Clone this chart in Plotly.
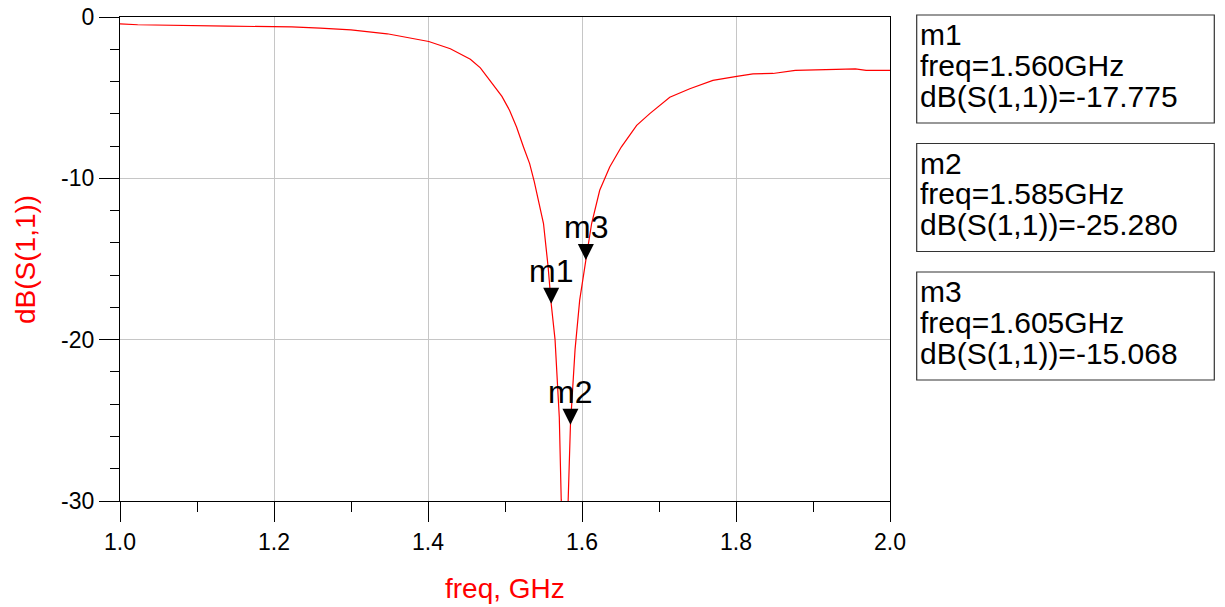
import plotly.graph_objects as go

# ---- data ----
freq_ghz = [1.000, 1.023, 1.140, 1.200, 1.223, 1.260, 1.300, 1.347, 1.390, 1.401,
            1.429, 1.455, 1.468, 1.481, 1.496, 1.506, 1.515, 1.524, 1.532, 1.538,
            1.550, 1.556, 1.560, 1.565, 1.5705, 1.573, 1.5775, 1.582, 1.585, 1.591,
            1.597, 1.605, 1.6125, 1.623, 1.636, 1.651, 1.671, 1.688, 1.714, 1.740,
            1.770, 1.801, 1.822, 1.848, 1.861, 1.877, 1.930, 1.955, 1.969, 2.000]
s11_db = [-0.42, -0.48, -0.57, -0.58, -0.61, -0.69, -0.80, -1.04, -1.39, -1.52,
          -1.97, -2.62, -3.15, -3.98, -4.92, -5.79, -6.82, -8.06, -9.09, -10.2,
          -12.8, -15.49, -17.775, -20.0, -24.8, -29.9, -34.0, -30.0, -25.28, -20.6,
          -17.55, -15.068, -12.8, -10.74, -9.3, -8.06, -6.72, -5.99, -4.97, -4.45,
          -3.93, -3.68, -3.52, -3.50, -3.42, -3.31, -3.25, -3.21, -3.31, -3.31]

marker_names = ["m1", "m2", "m3"]
marker_freq = [1.560, 1.585, 1.605]
marker_db = [-17.775, -25.280, -15.068]

x_tickvals = [1.0, 1.2, 1.4, 1.6, 1.8, 2.0]
x_ticktext = ["1.0", "1.2", "1.4", "1.6", "1.8", "2.0"]
y_tickvals = [0, -10, -20, -30]
y_ticktext = ["0", "-10", "-20", "-30"]

x_title = "freq, GHz"
y_title = "dB(S(1,1))"

# ---- layout geometry (pixels); body margin removed via post_script ----
W, H = 1225, 607
PW, PH = 770, 484
ML, MT = 120, 17
MR = W - ML - PW
MB = H - MT - PH
FONT = "Liberation Sans, Arial, sans-serif"


def px_x(px):
    """screen x pixel -> paper coordinate"""
    return (px - ML) / PW


def px_y(py):
    """screen y pixel -> paper coordinate"""
    return (H - MB - py) / PH


fig = go.Figure()
fig.add_trace(go.Scatter(x=freq_ghz, y=s11_db, mode="lines",
                         line=dict(color="#ff0000", width=1.2),
                         hoverinfo="skip", showlegend=False))

shapes = []
annotations = []

# marker triangles + labels
for name, f, d in zip(marker_names, marker_freq, marker_db):
    shapes.append(dict(type="path", xref="x", yref="y",
                       xsizemode="pixel", ysizemode="pixel",
                       xanchor=f, yanchor=d,
                       path="M-8,16 L8,16 L0,0 Z",
                       fillcolor="black", line=dict(width=0)))
    annotations.append(dict(x=f, y=d, xref="x", yref="y", text=name,
                            showarrow=False, yanchor="middle", xanchor="center",
                            yshift=33, font=dict(family=FONT, size=32, color="black")))

# readout boxes
box_left, box_right = 916.7, 1214.3
box_tops = [15, 143.5, 272]
box_h = 108
for (name, f, d), top in zip(zip(marker_names, marker_freq, marker_db), box_tops):
    shapes.append(dict(type="rect", xref="paper", yref="paper",
                       x0=px_x(box_left), x1=px_x(box_right),
                       y0=px_y(top), y1=px_y(top + box_h),
                       line=dict(color="#333333", width=1.2), fillcolor="rgba(0,0,0,0)"))
    lines = [name, "freq=%.3fGHz" % f, "dB(S(1,1))=%.3f" % d]
    for i, txt in enumerate(lines):
        annotations.append(dict(x=px_x(box_left + 1.5), y=px_y(top + 19.5 + 30.8 * i),
                                xref="paper", yref="paper", text=txt, showarrow=False,
                                xanchor="left", yanchor="middle",
                                font=dict(family=FONT, size=30, color="black")))

# axis titles
annotations.append(dict(x=0.5, y=px_y(588), xref="paper", yref="paper", text=x_title,
                        showarrow=False, xanchor="center", yanchor="middle",
                        font=dict(family=FONT, size=28, color="#ff0000")))
annotations.append(dict(x=px_x(25), y=px_y(260), xref="paper", yref="paper", text=y_title,
                        showarrow=False, xanchor="center", yanchor="middle", textangle=-90,
                        font=dict(family=FONT, size=28, color="#ff0000")))

axis_common = dict(showline=True, linecolor="black", linewidth=1.2, mirror=True,
                   showgrid=True, gridcolor="#c6c6c6", gridwidth=1,
                   ticks="outside", ticklen=20, tickcolor="black", tickwidth=1,
                   tickfont=dict(family=FONT, size=23, color="black"),
                   ticklabeloverflow="allow",
                   zeroline=False, fixedrange=True, automargin=False)

fig.update_layout(
    width=W, height=H,
    margin=dict(l=ML, r=MR, t=MT, b=MB, pad=0, autoexpand=False),
    paper_bgcolor="white", plot_bgcolor="white",
    showlegend=False,
    xaxis=dict(range=[1.0, 2.0], tickmode="array", tickvals=x_tickvals, ticktext=x_ticktext,
               minor=dict(ticks="outside", ticklen=10, dtick=0.1, tick0=1.0,
                          tickcolor="black", showgrid=False),
               **axis_common),
    yaxis=dict(range=[-30, 0], tickmode="array", tickvals=y_tickvals, ticktext=y_ticktext,
               minor=dict(ticks="outside", ticklen=9, dtick=2, tick0=0,
                          tickcolor="black", showgrid=False),
               **axis_common),
    shapes=shapes,
    annotations=annotations,
)

fig.write_html("out.html", config={"displayModeBar": False},
               post_script="document.body.style.margin='0';document.body.style.overflow='hidden';")
